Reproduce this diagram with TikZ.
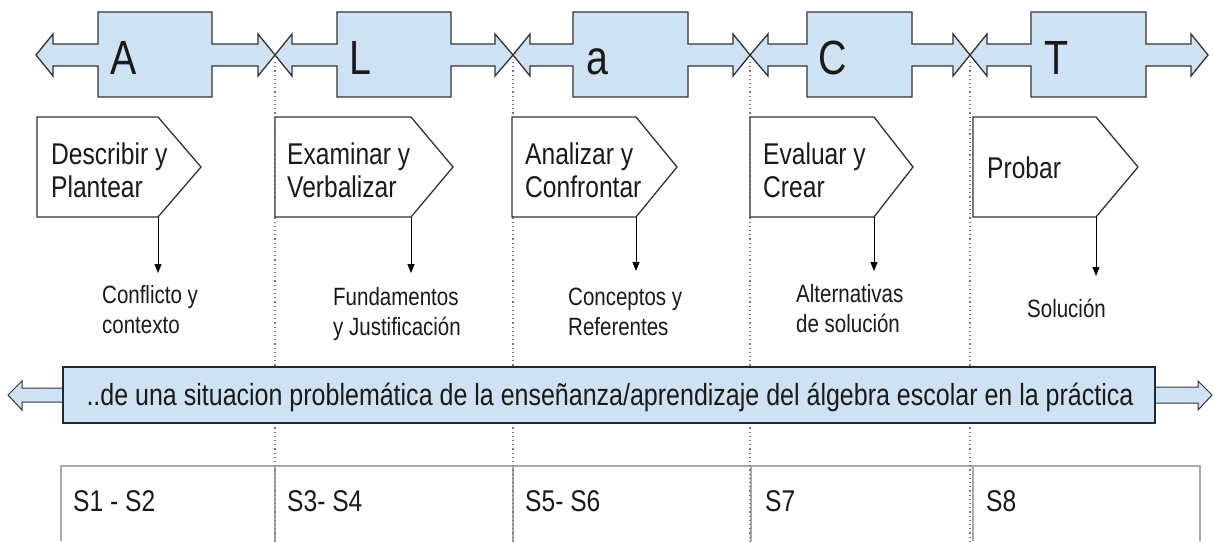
\documentclass[tikz,border=0pt]{standalone}
\usepackage{fontspec}
\setmainfont{Liberation Sans}[FakeStretch=0.82]
\usetikzlibrary{arrows.meta}
\definecolor{boxblue}{HTML}{CFE2F3}
\definecolor{edge}{HTML}{333333}
\definecolor{bandedge}{HTML}{1E2A36}
\definecolor{dotgray}{HTML}{7A7A7A}
\definecolor{tablegray}{HTML}{A8A8A8}
\definecolor{ink}{HTML}{1A1A1A}
\newcommand\topshape[7]{% name, tipL, headL, boxL, boxR, headR, tipR
  \draw[topstyle] (#2,55) -- (#3,34) -- (#3,44) -- (#4,44) -- (#4,12) -- (#5,12) -- (#5,44)
    -- (#6,44) -- (#6,34) -- (#7,55) -- (#6,76) -- (#6,66) -- (#5,66) -- (#5,97) -- (#4,97)
    -- (#4,66) -- (#3,66) -- (#3,76) -- cycle;
  \coordinate (#1) at ({(#4+#5)/2},55);}
\newcommand\pentashape[4]{% name, left, rect right, tip
  \draw[pentastyle] (#2,117) -- (#3,117) -- (#4,167) -- (#3,217) -- (#2,217) -- cycle;
  \coordinate (#1corner) at (#3,217);}
\begin{document}
\begin{tikzpicture}[x=1pt,y=-1pt,
  topstyle/.style={draw=edge, fill=boxblue, line width=1.3pt, line join=miter},
  pentastyle/.style={draw=edge, fill=white, line width=1.3pt, line join=miter},
  letter/.style={font=\fontsize{48}{48}\selectfont, text=ink, inner sep=0pt, anchor=base},
  ptext/.style={font=\fontsize{30}{33}\selectfont, text=ink, align=left, inner sep=0pt, anchor=base west},
  lbl/.style={font=\fontsize{25}{30}\selectfont, text=ink, align=left, inner sep=0pt, anchor=base west},
  celltext/.style={font=\fontsize{30}{30}\selectfont, text=ink, inner sep=0pt, anchor=base west},
  downarrow/.style={draw=black, line width=1pt, -{Triangle[width=7pt,length=9pt]}},
  guide/.style={draw=dotgray, line width=1.2pt, dash pattern=on 1.2pt off 3pt},
  tableline/.style={draw=tablegray, line width=1.2pt},
  bandarrow/.style={draw=edge, fill=boxblue, line width=1pt},
  bandbox/.style={draw=bandedge, fill=boxblue, line width=2.2pt}]
\useasboundingbox (0,0) rectangle (1214,541);
\fill[white] (0,0) rectangle (1214,541);

% table
\draw[tableline] (61,541) -- (61,466) -- (1200,466) -- (1200,541);
\foreach \x in {275,513,751,973} \draw[tableline] (\x,466) -- (\x,541);

% guide lines
\foreach \x/\n in {275/g1,513/g2,750/g3,970/g4} {
  \coordinate (\n top) at (\x,62);
  \coordinate (\n bot) at (\x,541);
  \draw[guide] (\n top) -- (\n bot);
}

% top row
\topshape{tA}{36}{53}{98}{212}{258}{275}
\topshape{tL}{275}{292}{337}{451}{495}{513}
\topshape{ta}{513}{530}{573}{688}{733}{750}
\topshape{tC}{750}{768}{807}{912}{953}{970}
\topshape{tT}{970}{987}{1031}{1146}{1191}{1208}
\node[letter] (letA) at (124,74) {A};
\node[letter] (letL) at (360,74) {L};
\node[letter] (leta) at (597,74) {a};
\node[letter] (letC) at (833,74) {C};
\node[letter] (letT) at (1057,74) {T};

% pentagons
\pentashape{p1}{37}{158}{201}
\pentashape{p2}{275}{411}{453}
\pentashape{p3}{512}{636}{677}
\pentashape{p4}{750}{874}{913}
\pentashape{p5}{973}{1096}{1138}
\node[ptext] (p1t) at (51,197) {Describir y\\Plantear};
\node[ptext] (p2t) at (287,197) {Examinar y\\Verbalizar};
\node[ptext] (p3t) at (525,197) {Analizar y\\Confrontar};
\node[ptext] (p4t) at (763,197) {Evaluar y\\Crear};
\node[ptext] (p5t) at (987,178) {Probar};

% labels
\node[lbl] (l1) at (102,333) {Conflicto y\\contexto};
\node[lbl] (l2) at (333,335) {Fundamentos\\y Justificación};
\node[lbl] (l3) at (568,335) {Conceptos y\\Referentes};
\node[lbl] (l4) at (796,332) {Alternativas\\de solución};
\node[lbl] (l5) at (1027,317) {Solución};

\coordinate (e1) at (158,273);
\coordinate (e2) at (411,273);
\coordinate (e3) at (636,271);
\coordinate (e4) at (874,271);
\coordinate (e5) at (1096,276);
\draw[downarrow] (p1corner) -- (e1);
\draw[downarrow] (p2corner) -- (e2);
\draw[downarrow] (p3corner) -- (e3);
\draw[downarrow] (p4corner) -- (e4);
\draw[downarrow] (p5corner) -- (e5);

% band
\draw[bandarrow] (8,395) -- (22,381) -- (22,388) -- (70,388) -- (70,402) -- (22,402) -- (22,410) -- cycle;
\draw[bandarrow] (1212,395) -- (1198,381) -- (1198,387) -- (1150,387) -- (1150,403) -- (1198,403) -- (1198,410) -- cycle;
\draw[bandbox] (63,367) rectangle (1155,423);
\node[font=\fontsize{30.5}{30.5}\selectfont, text=ink, inner sep=0pt, anchor=base] (band) at (610,405)
  {..de una situacion problemática de la enseñanza/aprendizaje del álgebra escolar en la práctica};

% table text
\node[celltext] (s1) at (73,511) {S1 - S2};
\node[celltext] (s2) at (287,511) {S3- S4};
\node[celltext] (s3) at (525,511) {S5- S6};
\node[celltext] (s4) at (765,511) {S7};
\node[celltext] (s5) at (986,511) {S8};
\end{tikzpicture}
\end{document}
